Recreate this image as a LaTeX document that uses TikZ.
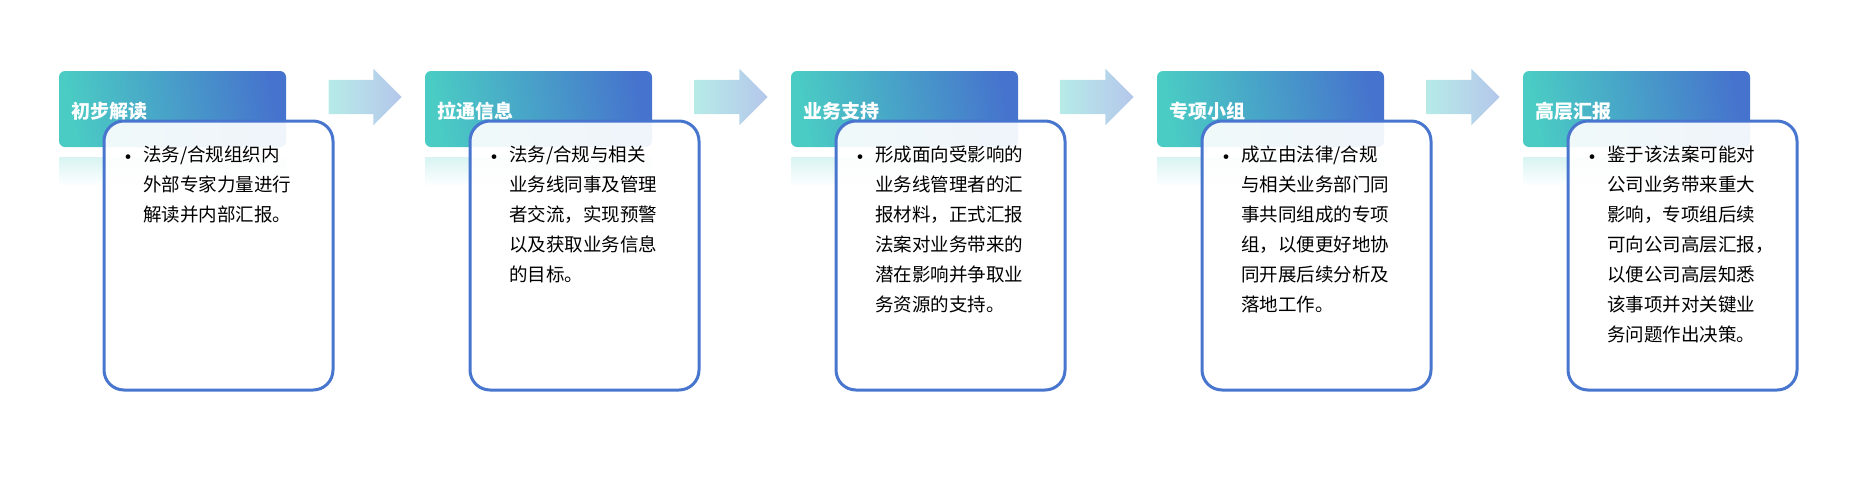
\documentclass[tikz,border=0pt]{standalone}
\usepackage{fontspec}
\newfontfamily\cjk{Noto Sans CJK SC}
\usetikzlibrary{shapes.arrows}
\definecolor{teal1}{RGB}{74,204,196}
\definecolor{blue1}{RGB}{70,115,205}
\definecolor{frame1}{RGB}{72,118,206}
\newcommand{\panel}[3]{%
  \begin{scope}[xshift=#1*366pt]
    \fill[top color=teal1!22,bottom color=white] (59,157) rectangle (286,186);
    \node[headbox] (head#1) at (172.5,109) {};
    \node[headtext] (title#1) at (head#1.west) {#2};
    \node[bodybox] (body#1) at (218.5,255.5) {};
    \node[bodytext] (text#1) at (143,146) {#3};
    \node[font=\cjk\fontsize{22}{22}\selectfont] (dot#1) at (128,160) {•};
  \end{scope}}
\begin{document}
\begin{tikzpicture}[x=1pt,y=-1pt]
\tikzstyle{headbox} = [rectangle, rounded corners=6pt, minimum width=227pt, minimum height=76pt, left color=teal1, right color=blue1, shading angle=100]
\tikzstyle{headtext} = [anchor=west, xshift=9pt, yshift=-2pt, text=white, font=\cjk\bfseries\fontsize{19}{24}\selectfont]
\tikzstyle{bodybox} = [rectangle, draw=frame1, line width=3pt, rounded corners=20pt, fill=white, fill opacity=.92, minimum width=229pt, minimum height=269pt]
\tikzstyle{bodytext} = [anchor=north west, inner sep=0pt, align=left, font=\cjk\fontsize{18.5}{30}\selectfont]
\tikzstyle{flowarrow} = [single arrow, minimum height=73pt, inner xsep=0pt, inner ysep=17pt, single arrow head extend=11pt, left color=teal1!40, right color=blue1!40, shading angle=90]
\useasboundingbox (0,0) rectangle (1853,491);
\panel{0}{初步解读}{法务/合规组织内\\外部专家力量进行\\解读并内部汇报。}
\panel{1}{拉通信息}{法务/合规与相关\\业务线同事及管理\\者交流，实现预警\\以及获取业务信息\\的目标。}
\panel{2}{业务支持}{形成面向受影响的\\业务线管理者的汇\\报材料，正式汇报\\法案对业务带来的\\潜在影响并争取业\\务资源的支持。}
\panel{3}{专项小组}{成立由法律/合规\\与相关业务部门同\\事共同组成的专项\\组，以便更好地协\\同开展后续分析及\\落地工作。}
\panel{4}{高层汇报}{鉴于该法案可能对\\公司业务带来重大\\影响，专项组后续\\可向公司高层汇报，\\以便公司高层知悉\\该事项并对关键业\\务问题作出决策。}
% arrows between steps
\foreach \i in {0,...,3}
  \node[flowarrow] (arr\i) at (356.5+\i*366,97) {};
\end{tikzpicture}
\end{document}
